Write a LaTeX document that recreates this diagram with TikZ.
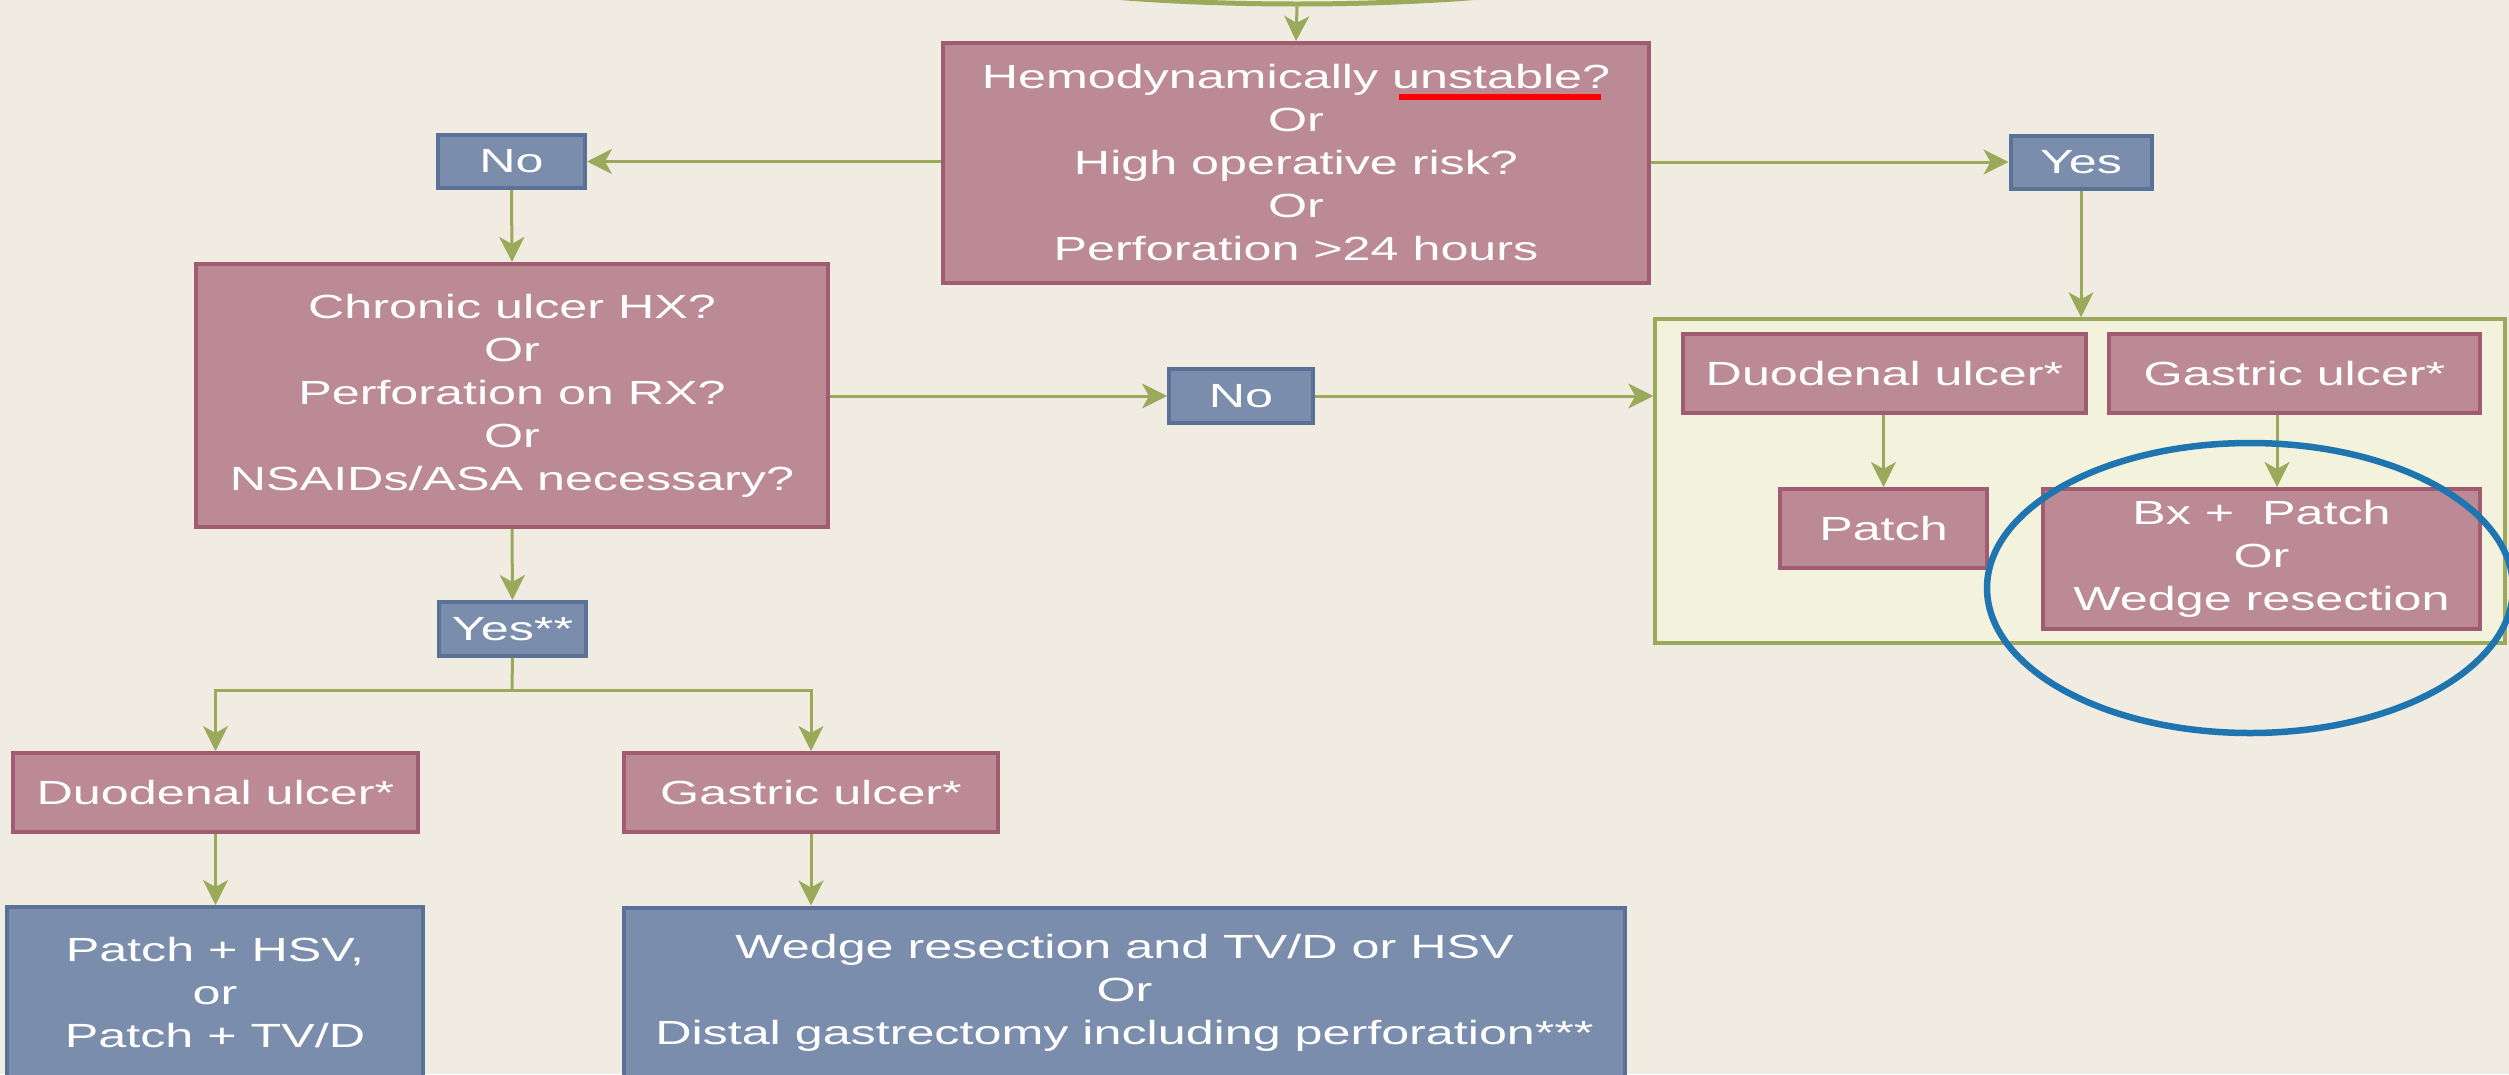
\documentclass[tikz,border=0pt]{standalone}
\usepackage{fontspec}
\newfontfamily\wfont{Liberation Sans}[FakeStretch=1.5]
\usetikzlibrary{arrows.meta,shapes.geometric}
\definecolor{bgc}{RGB}{240,236,226}
\definecolor{mauvefill}{RGB}{187,138,149}
\definecolor{mauveline}{RGB}{160,92,112}
\definecolor{bluefill}{RGB}{122,141,172}
\definecolor{blueline}{RGB}{90,114,152}
\definecolor{greenline}{RGB}{154,170,90}
\definecolor{panelfill}{RGB}{243,242,220}
\definecolor{circleblue}{RGB}{31,117,176}
\begin{document}
\begin{tikzpicture}[x=1pt,y=-1pt,
  box/.style={draw, line width=4pt, inner sep=0pt, align=center, text=white,
    font=\wfont\fontsize{33.5}{43}\selectfont},
  mbox/.style={box, draw=mauveline, fill=mauvefill},
  bbox/.style={box, draw=blueline, fill=bluefill},
  arr/.style={draw=greenline, line width=3pt, -{Stealth[length=25pt,width=25pt,inset=7pt]}},
  ln/.style={draw=greenline, line width=3pt}]
\useasboundingbox (0,0) rectangle (2509,1074);
\fill[bgc] (0,0) rectangle (2509,1074);
\clip (0,0) rectangle (2509,1074);
% top start shape
\node[draw=greenline, line width=5pt, fill=panelfill, ellipse, minimum width=1000pt, minimum height=200pt, inner sep=0pt] (start) at (1297,-96) {};
% main question
\node[mbox, minimum width=706pt, minimum height=240pt] (H) at (1296,163)
  {Hemodynamically unstable?\\Or\\High operative risk?\\Or\\Perforation >24 hours};
\coordinate (ulA) at (1399,97);
\coordinate (ulB) at (1601,97);
\draw[red, line width=6pt] (ulA) -- (ulB);
\node[bbox, minimum width=147pt, minimum height=53pt] (noL) at (511.5,161.5) {No};
\node[bbox, minimum width=141pt, minimum height=53pt] (yesR) at (2081,162) {Yes};
\node[mbox, minimum width=632pt, minimum height=263pt] (chronic) at (512,395.5)
  {Chronic ulcer HX?\\Or\\Perforation on RX?\\Or\\NSAIDs/ASA necessary?};
\node[bbox, minimum width=144pt, minimum height=54pt] (noM) at (1241,396) {No};
% right panel
\node[draw=greenline, line width=3.5pt, fill=panelfill, minimum width=850pt, minimum height=324pt, inner sep=0pt] (panel) at (2080,481) {};
\node[mbox, minimum width=403pt, minimum height=79pt] (duoR) at (1884.5,373.5) {Duodenal ulcer*};
\node[mbox, minimum width=371pt, minimum height=79pt] (gasR) at (2294.5,373.5) {Gastric ulcer*};
\node[mbox, minimum width=207pt, minimum height=79pt] (patchR) at (1883.5,528.5) {Patch};
\node[mbox, minimum width=437pt, minimum height=140pt] (bx) at (2261.5,559) {Bx +\ \ Patch\\Or\\Wedge resection};
\coordinate (gx) at (2277,0);
% lower left branch
\node[bbox, minimum width=147pt, minimum height=54pt] (yesL) at (512.5,629) {Yes**};
\node[mbox, minimum width=405pt, minimum height=79pt] (duoL) at (215.5,792.5) {Duodenal ulcer*};
\node[mbox, minimum width=374pt, minimum height=79pt] (gasL) at (811,792.5) {Gastric ulcer*};
\node[bbox, minimum width=416pt, minimum height=171pt] (phsv) at (215,992.5) {Patch + HSV,\\or\\Patch + TV/D};
\node[bbox, minimum width=1001pt, minimum height=171pt] (wedge) at (1124.5,993) {Wedge resection and TV/D or HSV\\Or\\Distal gastrectomy including perforation***};
\coordinate (split) at (512,690);
% connectors
\draw[arr] (start.south) -- (H.north);
\draw[arr] (H.west |- noL.east) -- (noL.east);
\draw[arr] (H.east |- yesR.west) -- (yesR.west);
\draw[arr] (noL.south) -- (chronic.north);
\draw[arr] (yesR.south) -- (yesR.south |- panel.north);
\draw[arr] (chronic.east |- noM.west) -- (noM.west);
\draw[arr] (noM.east) -- (noM.east -| panel.west);
\draw[arr] (duoR.south -| patchR.north) -- (patchR.north);
\draw[arr] (gasR.south -| gx) -- (bx.north -| gx);
\draw[arr] (chronic.south) -- (yesL.north);
\draw[ln] (yesL.south) -- (split);
\draw[arr] (split) -| (duoL.north);
\draw[arr] (split) -| (gasL.north);
\draw[arr] (duoL.south) -- (phsv.north -| duoL.south);
\draw[arr] (gasL.south) -- (wedge.north -| gasL.south);
% highlight ellipse
\draw[circleblue, line width=6.5pt] (2250,588) ellipse [x radius=263, y radius=145];
\end{tikzpicture}
\end{document}
